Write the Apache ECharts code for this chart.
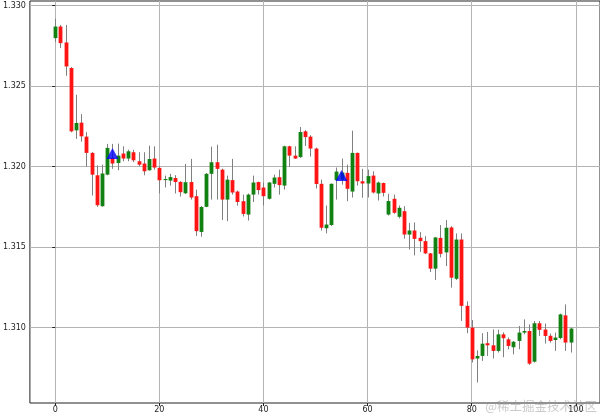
<!DOCTYPE html>
<html><head><meta charset="utf-8">
<script src="https://cdn.jsdelivr.net/npm/echarts@6/dist/echarts.min.js"></script>
<style>html,body{margin:0;padding:0;background:#fff}#c{width:600px;height:414px}</style>
</head><body><div id="c"></div>
<script>
const opens = [1.32798,1.32870,1.32771,1.32612,1.32225,1.32273,1.32186,1.32085,1.31946,1.31754,
1.31950,1.32054,1.32022,1.32081,1.32050,1.32089,1.32033,1.32019,1.31977,1.32050,
1.31992,1.31916,1.31913,1.31929,1.31905,1.31834,1.31904,1.31816,1.31594,1.31750,
1.31955,1.32027,1.31981,1.31795,1.31916,1.31845,1.31785,1.31702,1.31826,1.31904,
1.31870,1.31800,1.31893,1.31934,1.31882,1.32126,1.32068,1.32059,1.32219,1.32186,
1.32112,1.31893,1.31617,1.31637,1.31916,1.31919,1.31961,1.31845,1.32085,1.31909,
1.31895,1.31944,1.31833,1.31898,1.31702,1.31800,1.31688,1.31723,1.31578,1.31603,
1.31558,1.31537,1.31461,1.31366,1.31557,1.31467,1.31622,1.31303,1.31547,1.31135,
1.31000,1.30808,1.30824,1.30903,1.30890,1.30855,1.30958,1.30927,1.30878,1.30917,
1.30969,1.30979,1.30788,1.31027,1.30988,1.30949,1.30923,1.30935,1.31076,1.30907];
const closes = [1.32870,1.32767,1.32622,1.32219,1.32271,1.32188,1.32085,1.31950,1.31760,1.31957,
1.32116,1.32019,1.32068,1.32050,1.32095,1.32039,1.32012,1.31971,1.32047,1.31994,
1.31915,1.31923,1.31935,1.31904,1.31841,1.31903,1.31808,1.31599,1.31749,1.31955,
1.32027,1.31986,1.31795,1.31919,1.31839,1.31780,1.31706,1.31826,1.31901,1.31854,
1.31816,1.31901,1.31932,1.31885,1.32126,1.32068,1.32050,1.32215,1.32183,1.32112,
1.31892,1.31620,1.31640,1.31893,1.31969,1.31963,1.31862,1.32085,1.31909,1.31895,
1.31941,1.31839,1.31901,1.31837,1.31786,1.31713,1.31744,1.31578,1.31603,1.31551,
1.31537,1.31461,1.31366,1.31560,1.31458,1.31620,1.31310,1.31547,1.31135,1.31000,
1.30803,1.30824,1.30900,1.30890,1.30855,1.30958,1.30934,1.30886,1.30912,1.30969,
1.30979,1.30776,1.31027,1.30986,1.30948,1.30917,1.30938,1.31082,1.30907,1.30994];
const lows = [1.32773,1.32736,1.32564,1.32213,1.32172,1.32155,1.32000,1.31820,1.31750,1.31750,
1.31946,1.31986,1.31977,1.32033,1.32033,1.32028,1.32002,1.31946,1.31975,1.31981,
1.31833,1.31870,1.31882,1.31833,1.31814,1.31830,1.31795,1.31569,1.31564,1.31748,
1.31795,1.31795,1.31668,1.31661,1.31826,1.31758,1.31690,1.31665,1.31780,1.31826,
1.31758,1.31795,1.31870,1.31826,1.31857,1.31997,1.32047,1.32054,1.32128,1.32062,
1.31864,1.31603,1.31585,1.31631,1.31795,1.31888,1.31785,1.31808,1.31882,1.31806,
1.31808,1.31833,1.31789,1.31814,1.31696,1.31707,1.31678,1.31552,1.31485,1.31448,
1.31470,1.31456,1.31345,1.31296,1.31436,1.31382,1.31248,1.31295,1.31041,1.30965,
1.30783,1.30659,1.30793,1.30824,1.30808,1.30845,1.30816,1.30865,1.30834,1.30865,
1.30958,1.30768,1.30783,1.30948,1.30901,1.30907,1.30855,1.30927,1.30855,1.30845];
const highs = [1.32918,1.32880,1.32880,1.32618,1.32446,1.32326,1.32214,1.32090,1.32008,1.32012,
1.32141,1.32141,1.32143,1.32126,1.32105,1.32105,1.32089,1.32089,1.32130,1.32126,
1.32002,1.31944,1.31955,1.31947,1.31909,1.32017,1.32048,1.31857,1.31755,1.31960,
1.32124,1.32136,1.31988,1.31944,1.32048,1.31851,1.31826,1.31833,1.31944,1.31907,
1.31901,1.31904,1.31950,1.31981,1.32130,1.32130,1.32126,1.32246,1.32226,1.32195,
1.32118,1.31919,1.31758,1.31895,1.31994,1.32050,1.32012,1.32223,1.32087,1.31986,
1.31981,1.31971,1.31907,1.31901,1.31831,1.31826,1.31758,1.31754,1.31650,1.31653,
1.31593,1.31568,1.31464,1.31563,1.31637,1.31668,1.31630,1.31585,1.31585,1.31163,
1.31047,1.30859,1.30965,1.30973,1.30989,1.30987,1.30971,1.30938,1.30917,1.31010,
1.31051,1.31020,1.31041,1.31041,1.31025,1.30963,1.30969,1.31087,1.31144,1.31000];
const signalX = [11, 55];
const signalY = [1.32081, 1.31944];
const xTicks = [0, 20, 40, 60, 80, 100];
const yTicks = [1.310, 1.315, 1.320, 1.325, 1.330];

const candleData = opens.map((o, i) => [i, o, closes[i], lows[i], highs[i]]);
const signalData = signalX.map((x, i) => [x, signalY[i]]);

function matchTick(v, ticks, eps) {
  for (const t of ticks) { if (Math.abs(v - t) < eps) return t; }
  return null;
}

function renderCandle(params, api) {
  const x = api.value(0);
  const o = api.value(1), c = api.value(2), l = api.value(3), h = api.value(4);
  const pO = api.coord([x, o]), pC = api.coord([x, c]);
  const pL = api.coord([x, l]), pH = api.coord([x, h]);
  const bw = 3.8;
  const up = c >= o;
  const top = Math.min(pO[1], pC[1]), bot = Math.max(pO[1], pC[1]);
  const cx = Math.round(pO[0]) + 0.5;
  return {
    type: 'group',
    children: [
      { type: 'line', shape: { x1: cx, y1: pH[1], x2: cx, y2: pL[1] },
        style: { stroke: '#808080', lineWidth: 1 } },
      { type: 'rect', shape: { x: cx - bw / 2, y: top, width: bw, height: Math.max(bot - top, 1) },
        style: { fill: up ? '#118211' : '#ff1414' } }
    ]
  };
}

const chart = echarts.init(document.getElementById('c'), null, { renderer: 'canvas' });
chart.setOption({
  animation: false,
  backgroundColor: '#ffffff',
  grid: { left: 28, right: -2, top: 1, bottom: 10, show: true, borderColor: '#222', borderWidth: 1, backgroundColor: 'transparent' },
  xAxis: {
    type: 'value', min: -4.86, max: 104.64, minInterval: 20, maxInterval: 20,
    axisLine: { show: false },
    axisTick: { show: true, length: 3, customValues: xTicks, lineStyle: { color: '#222' } },
    axisLabel: {
      fontSize: 8, color: '#222', margin: 3, fontFamily: 'DejaVu Sans', customValues: xTicks,
      formatter: v => { const t = matchTick(v, xTicks, 1e-6); return t === null ? '' : String(t); }
    },
    splitLine: { show: true, lineStyle: { color: '#b4b4b4', width: 1 } }
  },
  yAxis: {
    type: 'value', min: 1.305316, max: 1.330285, minInterval: 0.005, maxInterval: 0.005,
    axisLine: { show: false },
    axisTick: { show: true, length: 3, customValues: yTicks, lineStyle: { color: '#222' } },
    axisLabel: {
      fontSize: 8, color: '#222', margin: 4, fontFamily: 'DejaVu Sans', customValues: yTicks,
      formatter: v => { const t = matchTick(v, yTicks, 1e-7); return t === null ? '' : t.toFixed(3); }
    },
    splitLine: { show: true, lineStyle: { color: '#b4b4b4', width: 1 } }
  },
  series: [
    { type: 'custom', renderItem: renderCandle, data: candleData,
      encode: { x: 0, y: [1, 2, 3, 4] }, z: 2, clip: true },
    { type: 'scatter', data: signalData, symbol: 'triangle', symbolSize: [12, 11],
      itemStyle: { color: '#0000ff' }, z: 5 }
  ],
  graphic: [
    { type: 'text', right: 3, bottom: 1, z: 100,
      style: { text: '@稀土掘金技术社区', font: '12.5px "Noto Sans CJK SC"', fill: 'rgba(150,150,150,0.5)' } }
  ]
});
</script>
</body></html>
